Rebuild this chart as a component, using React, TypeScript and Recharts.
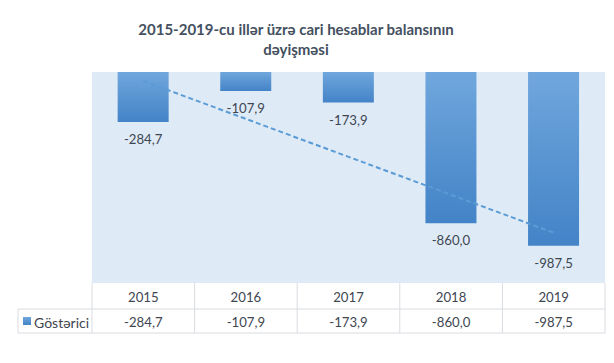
import React from 'react';
import { ComposedChart, Bar, Line, XAxis, YAxis, CartesianGrid, LabelList } from 'recharts';

const years = ['2015', '2016', '2017', '2018', '2019'];
const values = [-284.7, -107.9, -173.9, -860.0, -987.5];
// Excel linear trendline at its two ends
const trendEnds = [-51, null, null, null, -914];
const yDomain = [-1200, 0];
const seriesName = 'Göstərici';
const titleLines = ['2015-2019-cu illər üzrə cari hesablar balansının', 'dəyişməsi'];

const data = years.map((year, i) => ({ year, value: values[i], trend: trendEnds[i] }));

const W = 614;
const H = 363;
const PLOT_LEFT = 92;
const PLOT_RIGHT = 9;
const CELL = (W - PLOT_LEFT - PLOT_RIGHT) / years.length;
const ROW1 = 26;
const ROW2 = 24;
const FONT = 'Lato, "Noto Sans", sans-serif';
const TEXT = '#404650';
const BORDER = '#d9dce1';
const FS = 13.2;

const fmt = (v: number) => v.toFixed(1).replace('.', ',');

const BarLabel = (props: any) => {
  const { x, y, width, height, value } = props;
  const bottom = Math.max(y, y + height);
  return (
    <text x={x + width / 2} y={bottom + 17} textAnchor="middle" dominantBaseline="central"
      fontSize={FS} fontFamily={FONT} fill={TEXT}>
      {fmt(value)}
    </text>
  );
};

const TableTick = (props: any) => {
  const { x, y, index, payload } = props;
  const left = x - CELL / 2;
  const right = x + CELL / 2;
  const last = index === years.length - 1;
  return (
    <g>
      <line x1={left} y1={y} x2={left} y2={y + ROW1 + ROW2} stroke={BORDER} />
      {last && <line x1={right} y1={y} x2={right} y2={y + ROW1 + ROW2} stroke={BORDER} />}
      <line x1={left} y1={y + ROW1} x2={right} y2={y + ROW1} stroke={BORDER} />
      <line x1={left} y1={y + ROW1 + ROW2} x2={right} y2={y + ROW1 + ROW2} stroke={BORDER} />
      <text x={x} y={y + ROW1 / 2 + 1} textAnchor="middle" dominantBaseline="central"
        fontSize={FS} fontFamily={FONT} fill={TEXT}>
        {payload.value}
      </text>
      <text x={x} y={y + ROW1 + ROW2 / 2 + 1} textAnchor="middle" dominantBaseline="central"
        fontSize={FS} fontFamily={FONT} fill={TEXT}>
        {fmt(values[index])}
      </text>
      {index === 0 && (
        <g>
          <line x1={18} y1={y + ROW1} x2={left} y2={y + ROW1} stroke={BORDER} />
          <line x1={18} y1={y + ROW1 + ROW2} x2={left} y2={y + ROW1 + ROW2} stroke={BORDER} />
          <line x1={18} y1={y + ROW1} x2={18} y2={y + ROW1 + ROW2} stroke={BORDER} />
          <rect x={23} y={y + ROW1 + 8} width={8} height={8} fill="url(#barFill)" />
          <text x={34} y={y + ROW1 + ROW2 / 2 + 1} dominantBaseline="central"
            fontSize={FS + 0.8} fontFamily={FONT} fill={TEXT}>
            {seriesName}
          </text>
        </g>
      )}
    </g>
  );
};

export default function App() {
  return (
    <div style={{ position: 'absolute', left: 0, top: 0, width: W, height: H, background: '#fff' }}>
      <div style={{
        position: 'absolute', left: 86, width: 420, top: 19, textAlign: 'center',
        fontFamily: FONT, fontWeight: 700, fontSize: 15, lineHeight: '20px', color: '#44505f',
      }}>
        {titleLines.map((t) => <div key={t}>{t}</div>)}
      </div>
      <ComposedChart width={W} height={H} data={data} barCategoryGap="25%"
        margin={{ top: 72, right: PLOT_RIGHT, bottom: 28, left: PLOT_LEFT }}>
        <defs>
          <linearGradient id="barFill" x1="0" y1="0" x2="0" y2="1">
            <stop offset="0%" stopColor="#70a7dd" />
            <stop offset="100%" stopColor="#4383c7" />
          </linearGradient>
        </defs>
        <CartesianGrid horizontal={false} vertical={false} fill="#deebf7" />
        <XAxis dataKey="year" orientation="bottom" height={52} axisLine={false} tickLine={false}
          tickSize={0} tickMargin={0} tick={<TableTick />} interval={0} />
        <YAxis hide domain={yDomain} allowDataOverflow />
        <Bar dataKey="value" fill="url(#barFill)" isAnimationActive={false}>
          <LabelList dataKey="value" content={<BarLabel />} />
        </Bar>
        <Line dataKey="trend" connectNulls stroke="#5b9bd5" strokeWidth={2} strokeDasharray="5 3"
          dot={false} activeDot={false} isAnimationActive={false} />
      </ComposedChart>
    </div>
  );
}
